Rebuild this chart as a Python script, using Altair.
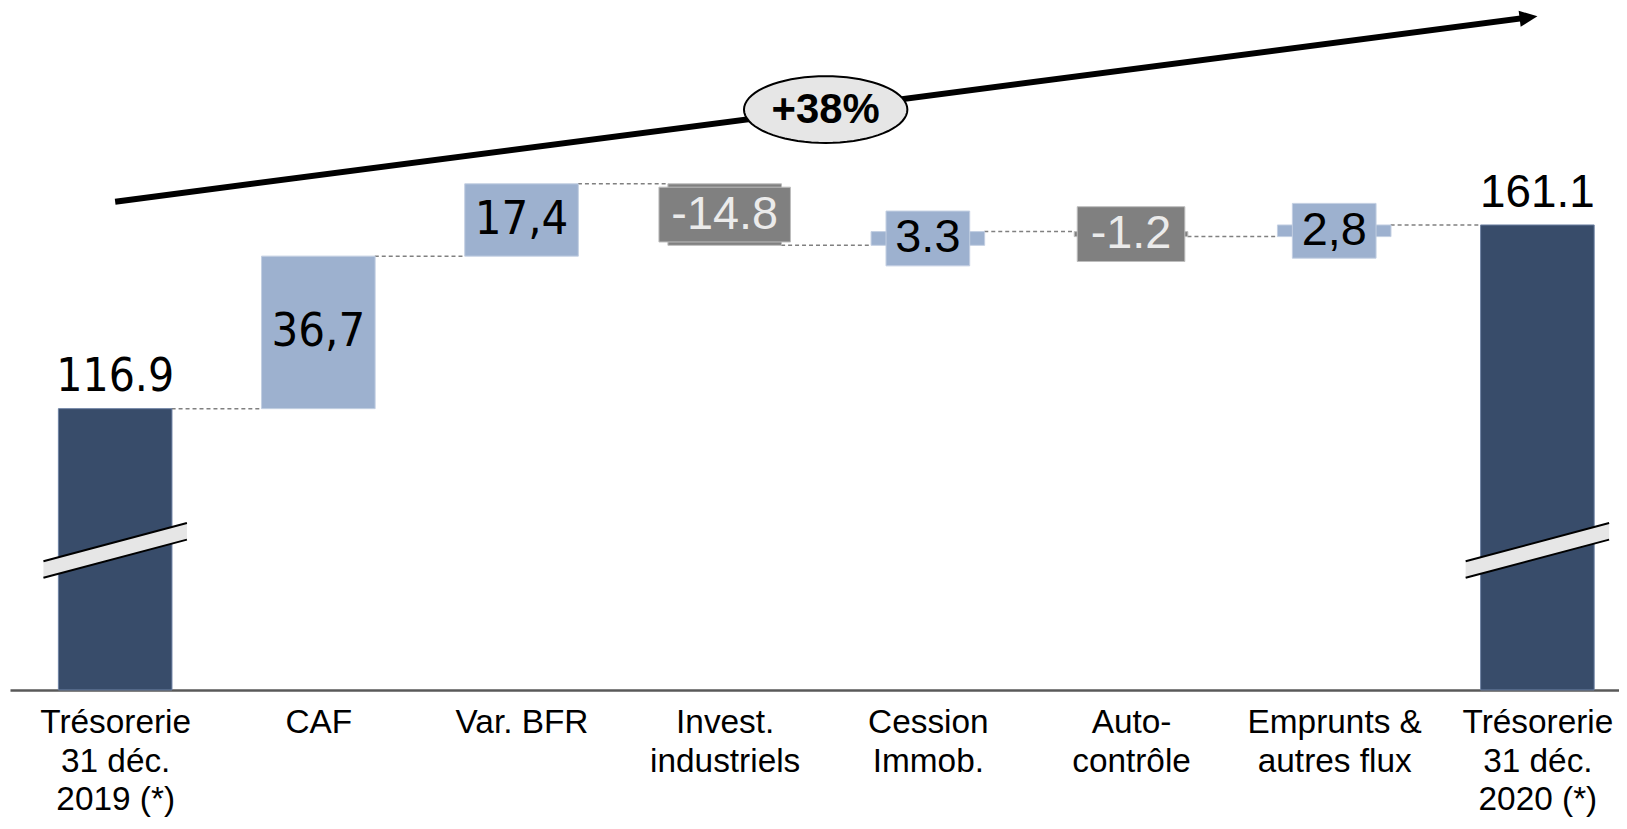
import json
import math
import altair as alt
import pandas as pd

# ---------------- data ----------------
categories = [
    "Trésorerie\n31 déc.\n2019 (*)",
    "CAF",
    "Var. BFR",
    "Invest.\nindustriels",
    "Cession\nImmob.",
    "Auto-\ncontrôle",
    "Emprunts &\nautres flux",
    "Trésorerie\n31 déc.\n2020 (*)",
]
values = [116.9, 36.7, 17.4, -14.8, 3.3, -1.2, 2.8, 161.1]
value_labels = ["116.9", "36,7", "17,4", "-14.8", "3.3", "-1.2", "2,8", "161.1"]
kinds = ["total", "delta", "delta", "delta", "delta", "delta", "delta", "total"]
growth_label = "+38%"

# ---------------- layout / style ----------------
PX_PER_IDX = 205.2
PX_PER_UNIT = 4.171
PLOT_W, PLOT_H = 1615, 683
Y_MIN = 49.2
Y_MAX = Y_MIN + PLOT_H / PX_PER_UNIT
X_MIN, X_MAX = -0.4932, -0.4932 + PLOT_W / PX_PER_IDX
BAR_W = 114
HALF_BAR = (BAR_W / 2) / PX_PER_IDX
BOX_HALF_H = 27.5        # px
C_TOTAL = "#384c6a"
C_POS = "#9db1cf"
C_NEG = "#808080"
FONT = "Liberation Sans"
FONT_ALT = "DejaVu Sans Condensed, Liberation Sans"

# ---------------- derived table ----------------
rows = []
level = None
for i, (v, lab, k) in enumerate(zip(values, value_labels, kinds)):
    if k == "total":
        start, end = Y_MIN, v
        level = v
    else:
        start, end = level, level + v
        level = level + v
    if k == "total":
        fill, stroke = C_TOTAL, "#6d82a3"
    elif v >= 0:
        fill, stroke = C_POS, "#c3cfe2"
    else:
        fill, stroke = C_NEG, "#bdbdbd"
    rows.append(dict(idx=i, label=lab, kind=k, start=start, end=end,
                     mid=(start + end) / 2, fill=fill, stroke=stroke,
                     boxed=(k == "delta" and abs(v) < 15)))
df = pd.DataFrame(rows)

conn = pd.DataFrame([
    dict(x=r["idx"] + HALF_BAR, x2=r["idx"] + 1 - HALF_BAR, y=r["end"])
    for r in rows[:-1]
])

x_scale = alt.Scale(domain=[X_MIN, X_MAX], nice=False, zero=False)
y_scale = alt.Scale(domain=[Y_MIN, Y_MAX], nice=False, zero=False, clamp=True)
label_lines = [c.split("\n") for c in categories]
x_axis = alt.Axis(
    values=list(range(len(categories))),
    labelExpr=json.dumps(label_lines, ensure_ascii=False) + "[datum.value]",
    title=None, grid=False, ticks=False, tickSize=0,
    domain=True, domainColor="#595959", domainWidth=2.5,
    labelFont=FONT, labelFontSize=33.5, labelLimit=0,
    labelLineHeight=38.5, labelPadding=17, labelColor="black",
    labelBaseline="top", labelAlign="center", labelAngle=0,
    labelOverlap=False, labelFlush=False, labelBound=False,
)


def X(f):
    return alt.X(f, type="quantitative", scale=x_scale, axis=x_axis)


def Y(f):
    return alt.Y(f, type="quantitative", scale=y_scale, axis=None)


layers = []

# growth arrow (annotation anchored on the data scales)
a_x0, a_y0 = 0.0, 166.7
a_x1, a_y1 = 7.0, 211.3
dxp = (a_x1 - a_x0) * PX_PER_IDX
dyp = (a_y1 - a_y0) * PX_PER_UNIT
L = math.hypot(dxp, dyp)
HEAD_HALF = 9.0
hx = a_x1 - HEAD_HALF * dxp / L / PX_PER_IDX
hy = a_y1 - HEAD_HALF * dyp / L / PX_PER_UNIT
ang = 360 - math.degrees(math.atan2(dyp, dxp))

arrow = pd.DataFrame([dict(x=a_x0, y=a_y0, x2=hx, y2=hy)])
layers.append(alt.Chart(arrow).mark_rule(color="black", strokeWidth=6, strokeCap="butt").encode(
    x=X("x"), y=Y("y"), x2="x2", y2="y2"))
head = pd.DataFrame([dict(x=hx, y=hy)])
layers.append(alt.Chart(head).mark_point(
    shape="M1,0L-1,-0.9L-1,0.9Z", size=(2 * HEAD_HALF) ** 2, filled=True, color="black",
    opacity=1, strokeWidth=0, angle=ang).encode(x=X("x"), y=Y("y")))

# ellipse with growth label
pts = []
for k in range(73):
    t = 2 * math.pi * k / 72
    pts.append(f"{math.cos(t):.4f},{0.4085 * math.sin(t):.4f}")
ellipse_path = "M" + "L".join(pts) + "Z"
ell = pd.DataFrame([dict(x=3.497, y=188.87, t=growth_label)])
layers.append(alt.Chart(ell).mark_point(
    shape=ellipse_path, size=164 * 164, filled=True, fill="#e6e6e6",
    stroke="black", strokeWidth=2, opacity=1).encode(x=X("x"), y=Y("y")))
layers.append(alt.Chart(ell).mark_text(
    font=FONT, fontSize=42, fontWeight="bold", color="black",
    align="center", baseline="middle").encode(x=X("x"), y=Y("y"), text="t"))

# connectors
layers.append(alt.Chart(conn).mark_rule(color="#808080", strokeWidth=1.5, strokeDash=[4, 3]).encode(
    x=X("x"), x2="x2", y=Y("y")))

# bars
layers.append(alt.Chart(df).mark_bar(width=BAR_W, strokeWidth=1).encode(
    x=X("idx"), y=Y("start"), y2="end",
    fill=alt.Fill("fill:N", scale=None),
    stroke=alt.Stroke("stroke:N", scale=None)))

# label boxes for the small deltas
for r in rows:
    if r["boxed"]:
        n = len(r["label"])
        w = 12 + 24 * n
        sub = df[df["idx"] == r["idx"]]
        layers.append(alt.Chart(sub).mark_bar(
            width=w, fill=r["fill"], stroke=r["stroke"], strokeWidth=1,
            yOffset=-BOX_HALF_H, y2Offset=BOX_HALF_H).encode(
            x=X("idx"), y=Y("mid"), y2="mid"))

# axis break marks on the total bars
brk = pd.DataFrame([dict(x=0, y=82.78), dict(x=7, y=82.78)])
layers.append(alt.Chart(brk).mark_point(
    shape="M-1,0.151L1,-0.382L1,-0.151L-1,0.382Z", size=144 * 144,
    filled=True, color="#e6e6e6", opacity=1, strokeWidth=0).encode(x=X("x"), y=Y("y")))
layers.append(alt.Chart(brk).mark_point(
    shape="M-1,0.151L1,-0.382M-1,0.382L1,-0.151", size=144 * 144,
    filled=False, color="black", opacity=1, strokeWidth=2).encode(x=X("x"), y=Y("y")))

# value labels
for r in rows:
    sub = df[df["idx"] == r["idx"]]
    font = FONT_ALT if r["idx"] in (0, 1, 2) else FONT
    color = "#ebebeb" if (r["kind"] == "delta" and r["end"] < r["start"]) else "black"
    if r["kind"] == "total":
        layers.append(alt.Chart(sub).mark_text(
            font=font, fontSize=46, color=color, align="center",
            baseline="alphabetic", dy=-18).encode(x=X("idx"), y=Y("end"), text="label"))
    else:
        layers.append(alt.Chart(sub).mark_text(
            font=font, fontSize=47, color=color, align="center",
            baseline="middle").encode(x=X("idx"), y=Y("mid"), text="label"))

chart = alt.layer(*layers).properties(
    width=PLOT_W, height=PLOT_H,
    autosize=alt.AutoSizeParams(type="none"),
    padding={"left": 2, "top": 0, "right": 0, "bottom": 128},
).configure_view(stroke=None)

chart.save("out.html", embed_options={"renderer": "svg", "actions": False})
